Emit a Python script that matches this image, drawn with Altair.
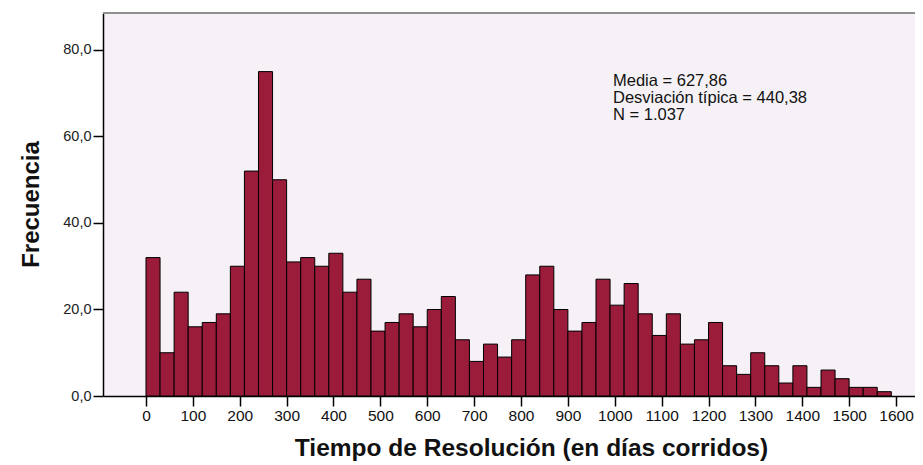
import altair as alt
import pandas as pd

bin_width = 30
counts = [32, 10, 24, 16, 17, 19, 30, 52, 75, 50,
          31, 32, 30, 33, 24, 27, 15, 17, 19, 16,
          20, 23, 13, 8, 12, 9, 13, 28, 30, 20,
          15, 17, 27, 21, 26, 19, 14, 19, 12, 13,
          17, 7, 5, 10, 7, 3, 7, 2, 6, 4,
          2, 2, 1]
bin_starts = [i * bin_width for i in range(len(counts))]
bin_ends = [s + bin_width for s in bin_starts]
x_ticks = list(range(0, 1601, 100))
y_ticks = [0, 20, 40, 60, 80]
stats_lines = ["Media = 627,86", "Desviación típica = 440,38", "N = 1.037"]

df = pd.DataFrame({"start": bin_starts, "end": bin_ends, "count": counts,
                   "base": [0] * len(counts)})

W, H = 812, 383
FONT = "Liberation Sans, Arial, sans-serif"

xscale = alt.Scale(domain=[-91.7, 1640.5], nice=False, zero=False)
yscale = alt.Scale(domain=[0, 88.55], nice=False)

bars = alt.Chart(df).mark_bar(
    color="#9A1B3A", stroke="#000000", strokeWidth=1, opacity=1
).encode(
    x=alt.X("start:Q", scale=xscale,
            axis=alt.Axis(values=x_ticks, format="d",
                          title="Tiempo de Resolución (en días corridos)",
                          grid=False, domainColor="#000000", domainWidth=1.5,
                          tickColor="#000000", tickSize=10, tickWidth=1.5,
                          labelFont=FONT, labelFontSize=15.5,
                          labelColor="#111111", labelPadding=2, labelFlush=False,
                          titleFont=FONT, titleFontSize=24.5,
                          titleFontWeight="bold", titleColor="#111111",
                          titleAnchor="start", titleAlign="center", titleX=428,
                          titleY=59, titleBaseline="alphabetic")),
    x2="end:Q",
    y=alt.Y("count:Q", scale=yscale,
            axis=alt.Axis(values=y_ticks, title="Frecuencia", grid=False,
                          labelExpr="replace(format(datum.value, '.1f'), '.', ',')",
                          domainColor="#000000", domainWidth=1.5,
                          tickColor="#000000", tickSize=10, tickWidth=1.5,
                          labelFont=FONT, labelFontSize=14.5,
                          labelColor="#222222", labelPadding=2,
                          titleFont=FONT, titleFontSize=24,
                          titleFontWeight="bold", titleColor="#111111",
                          titleAngle=270, titleAlign="center",
                          titleBaseline="alphabetic", titleX=-65, titleY=191)),
    y2="base:Q",
)

top_line = alt.Chart(pd.DataFrame({"a": [0]})).mark_rule(
    color="#8f8f8f", strokeWidth=2
).encode(x=alt.value(0), x2=alt.value(W), y=alt.value(0))

stats = alt.Chart(pd.DataFrame({"t": ["\n".join(stats_lines)]})).mark_text(
    align="left", baseline="alphabetic", font=FONT, fontSize=16.5,
    lineHeight=17, color="#111111", lineBreak="\n"
).encode(x=alt.value(510), y=alt.value(73), text="t:N")

chart = alt.layer(bars, top_line, stats).properties(
    width=W, height=H,
    autosize=alt.AutoSizeParams(type="none"),
    padding={"left": 95, "top": 5, "right": 0, "bottom": 68},
    background="#ffffff",
).configure_view(fill="#F5F1F6", stroke=None)

chart.save("out.html", embed_options={"renderer": "svg", "actions": False})
